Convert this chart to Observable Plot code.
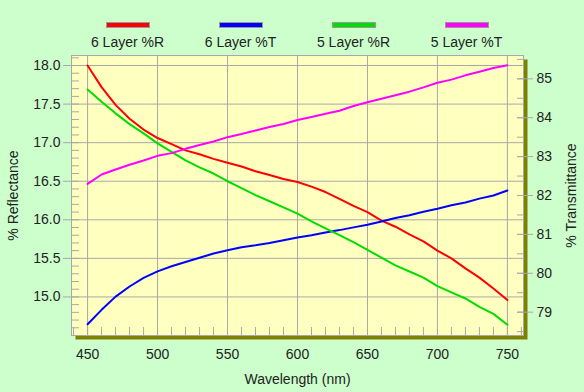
<!DOCTYPE html>
<html><head><meta charset="utf-8">
<script src="https://cdn.jsdelivr.net/npm/d3@7"></script>
<script src="https://cdn.jsdelivr.net/npm/@observablehq/plot@0.6"></script>
<style>
body{margin:0;background:#CCFFCC;font-family:"Liberation Sans",Arial,sans-serif;color:#222}
#legend{position:relative;width:584px;height:50px}
.item{position:absolute;top:0;width:113px;text-align:center}
.sw{width:42px;height:4px;border:1px solid #999;margin:22px auto 0}
.lab{font-size:14px;margin-top:6px;line-height:16px;white-space:nowrap}
</style></head><body>
<div id="legend"></div><div id="chart"></div>
<script>
const wavelengths = [450,460,470,480,490,500,510,520,530,540,550,560,570,580,590,600,610,620,630,640,650,660,670,680,690,700,710,720,730,740,750];
const r6 = [18.00,17.72,17.49,17.31,17.17,17.06,16.98,16.90,16.85,16.79,16.74,16.69,16.63,16.58,16.53,16.49,16.43,16.36,16.27,16.18,16.10,15.99,15.91,15.81,15.72,15.60,15.50,15.37,15.25,15.11,14.96];
const t6 = [78.69,79.06,79.40,79.66,79.88,80.05,80.18,80.29,80.40,80.51,80.59,80.67,80.72,80.78,80.85,80.92,80.98,81.05,81.11,81.18,81.25,81.33,81.42,81.49,81.58,81.66,81.75,81.82,81.92,82.00,82.13];
const r5 = [17.69,17.53,17.38,17.24,17.12,16.99,16.88,16.77,16.68,16.60,16.50,16.41,16.32,16.24,16.16,16.08,15.98,15.89,15.80,15.71,15.61,15.51,15.41,15.33,15.25,15.14,15.06,14.98,14.87,14.78,14.64];
const t5 = [82.30,82.54,82.67,82.79,82.90,83.02,83.09,83.20,83.30,83.39,83.50,83.58,83.67,83.76,83.84,83.94,84.02,84.10,84.18,84.30,84.40,84.49,84.58,84.67,84.78,84.90,84.98,85.09,85.18,85.28,85.35];
const seriesNames = ["6 Layer %R","6 Layer %T","5 Layer %R","5 Layer %T"];
const seriesColors = ["#FF0000","#0000FF","#00DD00","#FF00FF"];
const seriesAxis = ["left","right","left","right"];
const leftTicks = [15.0,15.5,16.0,16.5,17.0,17.5,18.0];
const rightTicks = [79,80,81,82,83,84,85];
const xTicks = [450,500,550,600,650,700,750];
const xDomain = [438.5, 761.5];
const leftDomain = [14.5, 18.13];
const rightDomain = [78.4, 85.6];

const toLeft = t => leftDomain[0] + (t - rightDomain[0]) * (leftDomain[1]-leftDomain[0])/(rightDomain[1]-rightDomain[0]);
const fromLeft = v => rightDomain[0] + (v - leftDomain[0]) * (rightDomain[1]-rightDomain[0])/(leftDomain[1]-leftDomain[0]);

const seriesValues = [r6, t6, r5, t5];
const rows = [];
seriesNames.forEach((name, s) => {
  wavelengths.forEach((w, i) => {
    const v = seriesValues[s][i];
    rows.push({series: name, wl: w, y: seriesAxis[s] === "right" ? toLeft(v) : v});
  });
});

// legend
const legend = document.getElementById("legend");
seriesNames.forEach((n, i) => {
  const d = document.createElement("div");
  d.className = "item";
  d.style.left = (71 + i*113) + "px";
  d.innerHTML = `<div class="sw" style="background:${seriesColors[i]}"></div><div class="lab">${n}</div>`;
  legend.appendChild(d);
});

const leftMinor = d3.range(146, 182).map(i => i/10);
const rightMinor = d3.range(157, 172).map(i => toLeft(i/2));
const xMinor = d3.range(440, 761, 10);
const grid = "#A8A8A8";

const chart = Plot.plot({
  width: 584, height: 342,
  marginTop: 5, marginBottom: 57, marginLeft: 71, marginRight: 61,
  style: {fontFamily: "'Liberation Sans', Arial, sans-serif", background: "transparent", color: "#222"},
  x: {domain: xDomain},
  y: {domain: leftDomain},
  color: {domain: seriesNames, range: seriesColors},
  marks: [
    Plot.frame({fill: "#808000", dx: 4, dy: 4}),
    Plot.frame({fill: "#FFFFC0"}),
    Plot.ruleX(xTicks, {stroke: grid}),
    Plot.ruleY(leftTicks, {stroke: grid}),
    Plot.frame({stroke: grid}),
    Plot.axisY(leftMinor, {anchor: "left", tickSize: 8, dx: 8, text: null, stroke: grid, label: null}),
    Plot.axisY(leftTicks, {anchor: "left", tickSize: 8, tickPadding: 3, tickFormat: d3.format(".1f"), stroke: grid, fill: "#222", fontSize: 14,
      label: "% Reflectance", labelAnchor: "center", labelOffset: 63, labelArrow: "none"}),
    Plot.axisY(rightMinor, {anchor: "right", tickSize: 7, dx: -7, text: null, stroke: grid, label: null}),
    Plot.axisY(rightTicks.map(toLeft), {anchor: "right", tickSize: 16, dx: -7, text: null, stroke: grid, label: null}),
    Plot.axisY(rightTicks.map(toLeft), {anchor: "right", tickSize: 0, tickPadding: 13, tickFormat: v => String(Math.round(fromLeft(v))), fill: "#222", fontSize: 14,
      label: "% Transmittance", labelAnchor: "center", labelOffset: 52, labelArrow: "none"}),
    Plot.axisX(xMinor, {anchor: "bottom", tickSize: 8, dy: -8, text: null, stroke: grid, label: null}),
    Plot.axisX(xTicks, {anchor: "bottom", tickSize: 0, tickPadding: 14, fill: "#222", fontSize: 14,
      label: "Wavelength (nm)", labelAnchor: "center", labelOffset: 48, labelArrow: "none"}),
    Plot.line(rows, {x: "wl", y: "y", z: "series", stroke: "series", strokeWidth: 2})
  ]
});
document.getElementById("chart").appendChild(chart);
</script>
</body></html>
